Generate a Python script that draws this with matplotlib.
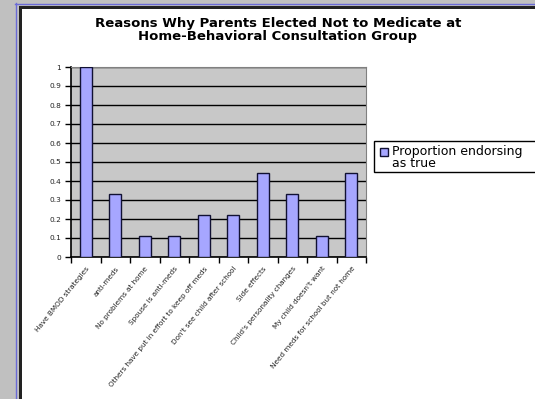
import numpy as np
import matplotlib.pyplot as plt
from matplotlib.patches import Rectangle
from matplotlib.lines import Line2D

reasons = [
    "Have BMOD strategies",
    "anti-meds",
    "No problems at home",
    "Spouse is anti-meds",
    "Others have put in effort to keep off meds",
    "Don't see child after school",
    "Side effects",
    "Child's personality changes",
    "My child doesn't want",
    "Need meds for school but not home",
]
proportion = [1.0, 0.33, 0.11, 0.11, 0.22, 0.22, 0.44, 0.33, 0.11, 0.44]
yticks = [0, 0.1, 0.2, 0.3, 0.4, 0.5, 0.6, 0.7, 0.8, 0.9, 1]
series_name = "Proportion endorsing\nas true"
bar_color = "#a6a6ff"

W, H = 535, 399
fig = plt.figure(figsize=(W / 100, H / 100), dpi=100, facecolor="#c0c0c0")


def fx(px):
    return px / W


def fy(py):
    return 1 - py / H


# window frame: blue line, dark border, white chart area (kept behind the axes)
fig.add_artist(Line2D([fx(15.5), fx(15.5)], [fy(3), 0], color="#6b6bd6", lw=1,
                      zorder=-10))
fig.add_artist(Line2D([fx(15), 1], [fy(3.5), fy(3.5)], color="#6b6bd6", lw=1,
                      zorder=-10))
fig.add_artist(Rectangle((fx(19), 0), 1 - fx(19), fy(6), facecolor="#222222",
                         edgecolor="none", zorder=-9))
fig.add_artist(Rectangle((fx(21.5), 0), 1 - fx(21.5), fy(8.5), facecolor="white",
                         edgecolor="none", zorder=-8))

ax = fig.add_axes([fx(71), fy(257), fx(366) - fx(71), fy(67) - fy(257)])
ax.set_zorder(1)
ax.set_facecolor("#c8c8c8")

x = np.arange(len(reasons))
bars = ax.bar(x, proportion, width=0.42, color=bar_color, edgecolor="#111133",
              linewidth=1, zorder=3)

ax.set_xlim(-0.5, len(reasons) - 0.5)
ax.set_ylim(0, 1)
ax.set_yticks(yticks)
ax.set_yticklabels([("%g" % v) for v in yticks], fontsize=5.3, color="#222222")
ax.yaxis.grid(True, color="black", lw=1, zorder=1)
ax.set_axisbelow(True)

# category ticks between bars, labels under bar centres
ax.set_xticks(np.arange(len(reasons) + 1) - 0.5)
ax.set_xticklabels([])
ax.set_xticks(x, minor=True)
ax.set_xticklabels(reasons, minor=True, rotation=51, ha="right",
                   rotation_mode="anchor", fontsize=5.2, color="#222222")
ax.tick_params(axis="x", which="minor", length=0, pad=6)
ax.tick_params(axis="x", which="major", length=4, width=1, color="black")
ax.tick_params(axis="y", length=4, width=1, color="black", pad=3)

for s in ["top", "right"]:
    ax.spines[s].set_color("#808080")
for s in ["left", "bottom"]:
    ax.spines[s].set_color("black")
    ax.spines[s].set_linewidth(1.2)

fig.text(fx(278), fy(30), "Reasons Why Parents Elected Not to Medicate at\n"
         "Home-Behavioral Consultation Group", ha="center", va="center",
         fontsize=9.5, fontweight="bold", linespacing=1.0)

# legend box, running off the right edge like the original
fig.add_artist(Rectangle((fx(373.5), fy(172)), 1, fy(141) - fy(172),
                         facecolor="white", edgecolor="black", lw=1, zorder=4))
fig.add_artist(Rectangle((fx(379.5), fy(155.5)), fx(8), fy(0) - fy(8),
                         facecolor=bar_color, edgecolor="#111133", lw=1,
                         zorder=5))
for i, line in enumerate(series_name.split("\n")):
    fig.text(fx(392), fy(152 + 11.5 * i), line, ha="left", va="center",
             fontsize=9, zorder=5)

fig.savefig("out.png", dpi=100, facecolor=fig.get_facecolor())
